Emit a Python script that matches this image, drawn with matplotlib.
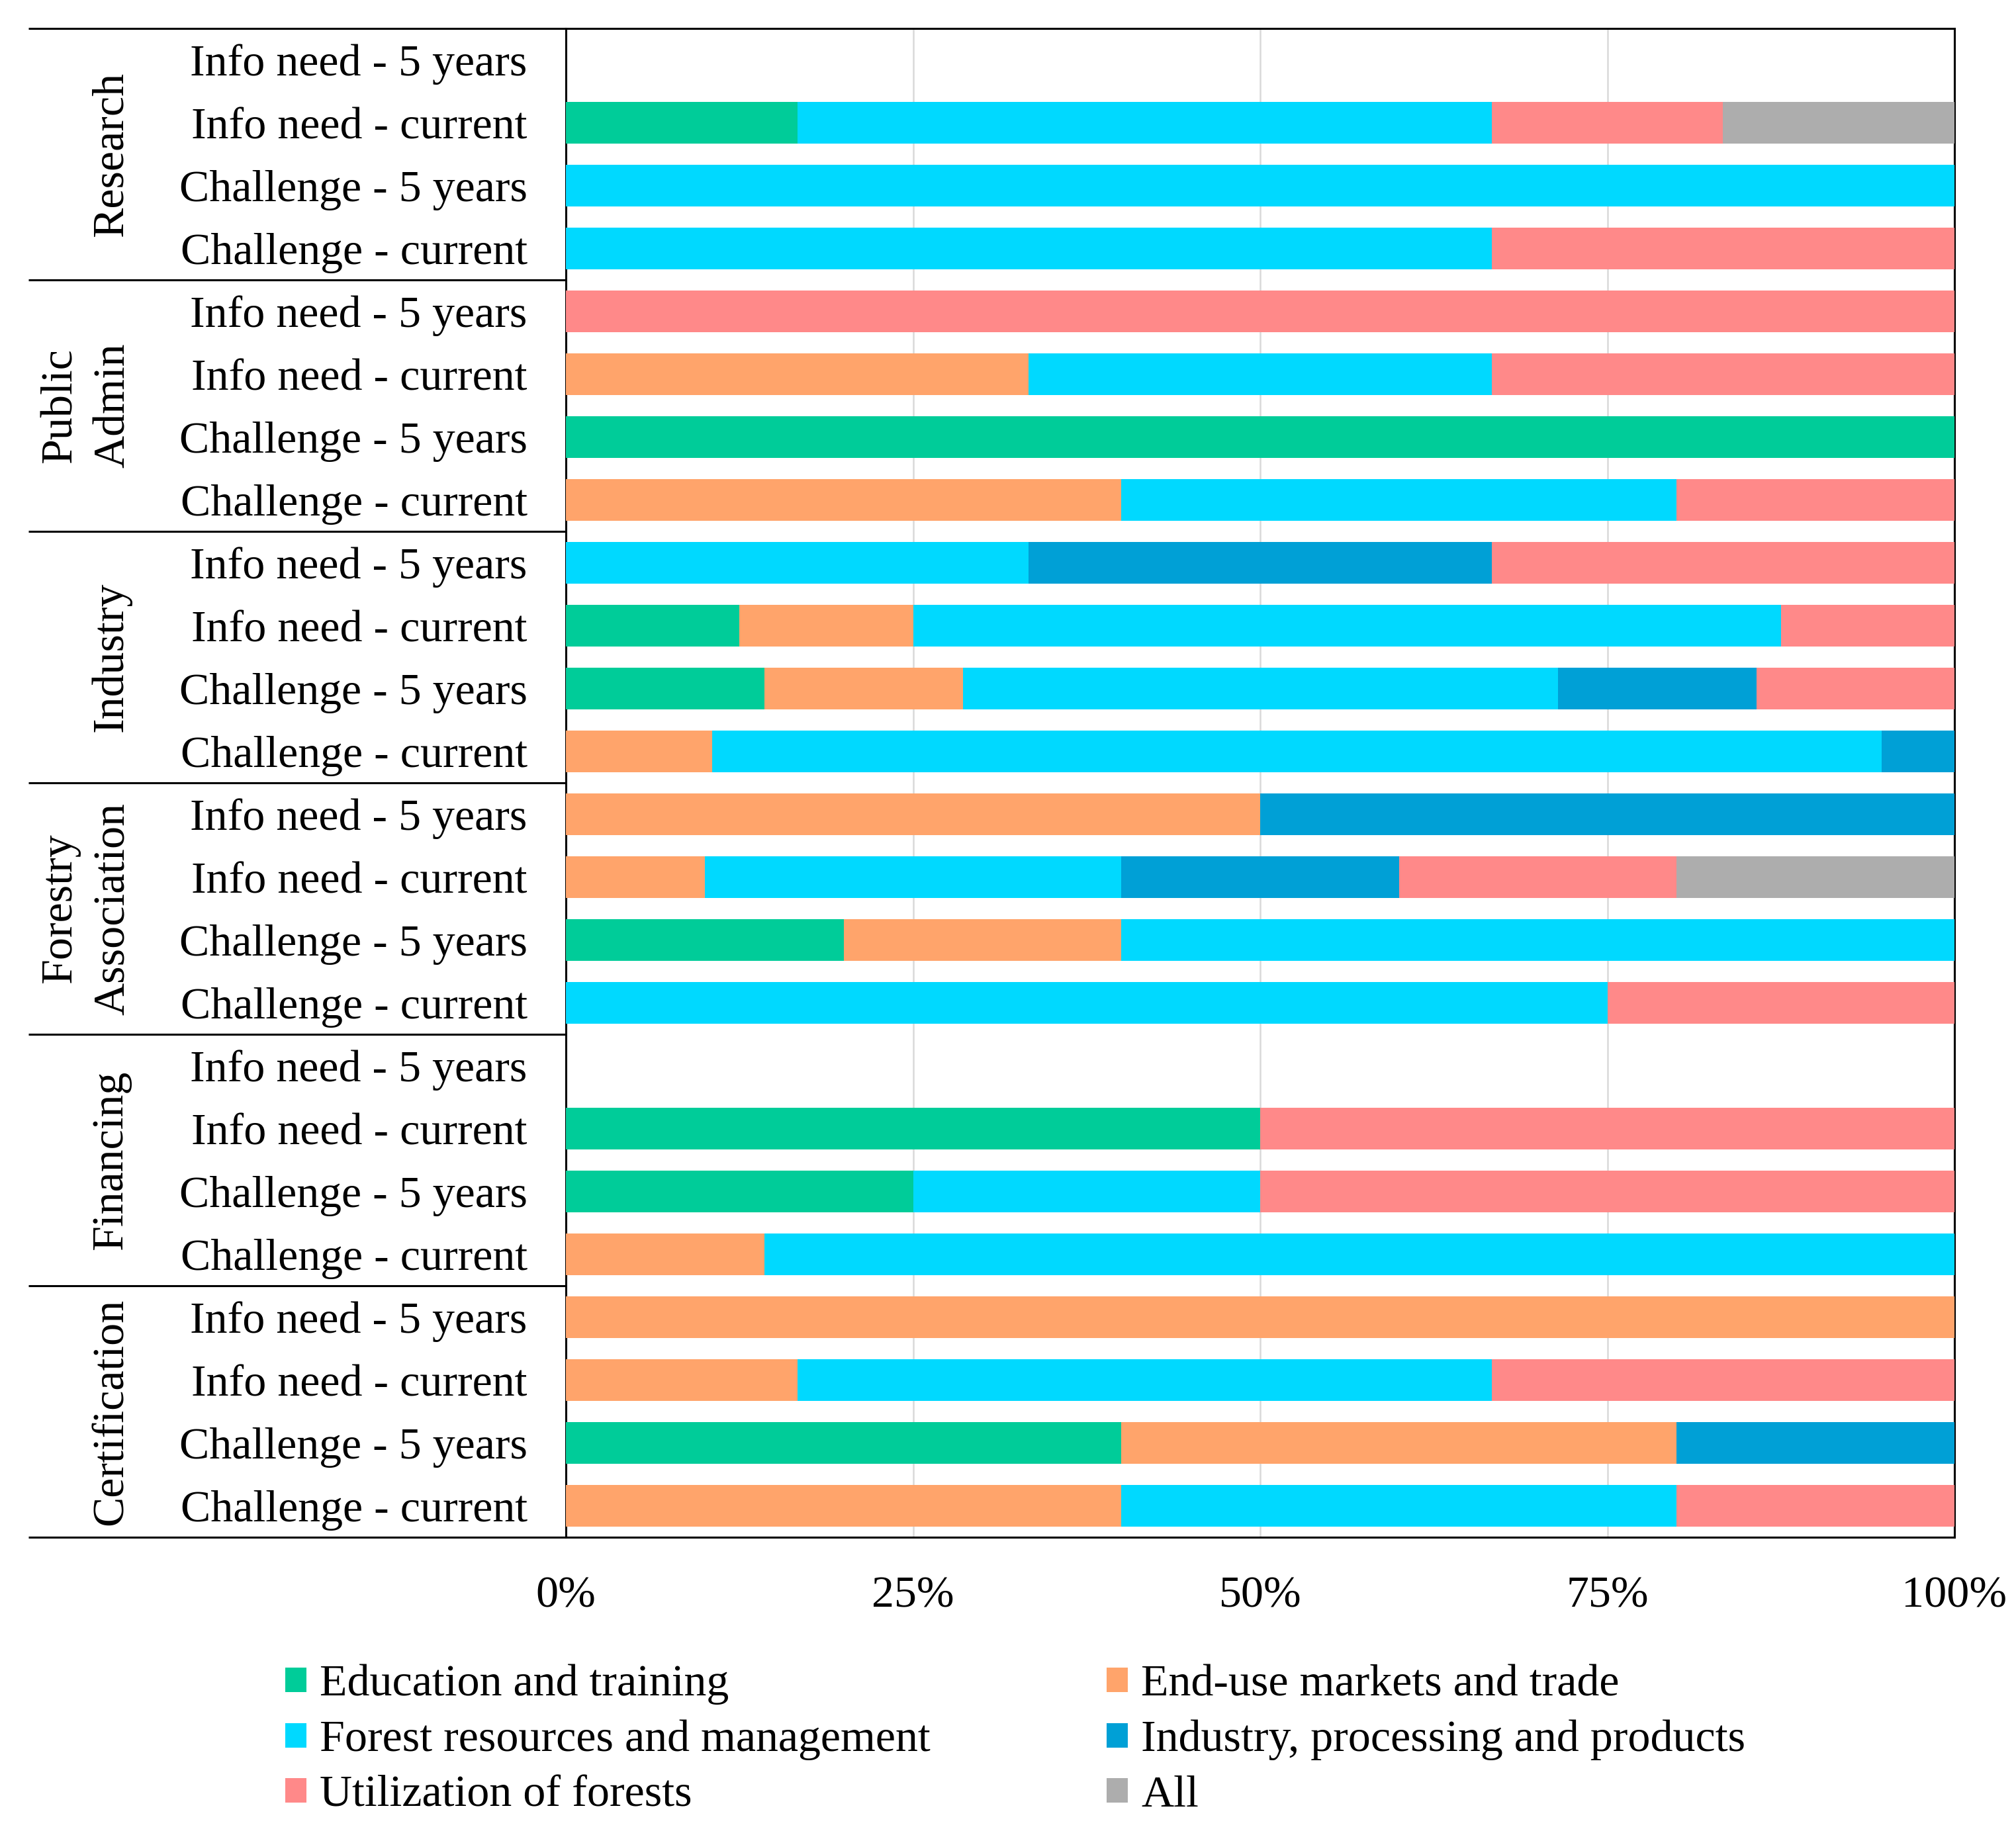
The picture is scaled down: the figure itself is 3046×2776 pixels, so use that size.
import matplotlib
matplotlib.use("Agg")
import matplotlib.pyplot as plt
from matplotlib.patches import Patch
import numpy as np

plt.rcParams['font.family'] = ['Liberation Serif', 'DejaVu Serif']

groups = ["Research", "Public\nAdmin", "Industry", "Forestry\nAssociation", "Financing", "Certification"]
row_types = ["Info need - 5 years", "Info need - current", "Challenge - 5 years", "Challenge - current"]
row_labels = [rt for g in groups for rt in row_types]

series_names = ["Education and training", "End-use markets and trade",
                "Forest resources and management", "Industry, processing and products",
                "Utilization of forests", "All"]
colors = ["#00CC99", "#FFA46B", "#00D9FF", "#00A0D6", "#FF8989", "#ADADAD"]

education = [0, 0.1667, 0, 0,   0, 0, 1.0, 0,   0, 0.125, 0.1429, 0,   0, 0, 0.2, 0,
             0, 0.5, 0.25, 0,   0, 0, 0.4, 0]
end_use = [0, 0, 0, 0,   0, 0.3333, 0, 0.4,   0, 0.125, 0.1429, 0.1053,   0.5, 0.1, 0.2, 0,
           0, 0, 0, 0.1429,   1.0, 0.1667, 0.4, 0.4]
forest = [0, 0.5, 1.0, 0.6667,   0, 0.3333, 0, 0.4,   0.3333, 0.625, 0.4286, 0.8421,
          0, 0.3, 0.6, 0.75,   0, 0, 0.25, 0.8571,   0, 0.5, 0, 0.4]
industry = [0, 0, 0, 0,   0, 0, 0, 0,   0.3333, 0, 0.1429, 0.0526,   0.5, 0.2, 0, 0,
            0, 0, 0, 0,   0, 0, 0.2, 0]
utilization = [0, 0.1667, 0, 0.3333,   1.0, 0.3333, 0, 0.2,   0.3334, 0.125, 0.1427, 0,
               0, 0.2, 0, 0.25,   0, 0.5, 0.5, 0,   0, 0.3333, 0, 0.2]
all_cat = [0, 0.1666, 0, 0,   0, 0, 0, 0,   0, 0, 0, 0,   0, 0.2, 0, 0,
           0, 0, 0, 0,   0, 0, 0, 0]

series = [education, end_use, forest, industry, utilization, all_cat]
xticks = [0, 0.25, 0.5, 0.75, 1.0]
xticklabels = ["0%", "25%", "50%", "75%", "100%"]

W, H, DPI = 3046, 2776, 200
fig = plt.figure(figsize=(W / DPI, H / DPI), dpi=DPI)
ax = fig.add_axes([855 / W, 1 - 2323 / H, (2953 - 855) / W, (2323 - 43) / H])

y = np.arange(len(row_labels))
left = np.zeros(len(row_labels))
handles = []
for vals, name, c in zip(series, series_names, colors):
    v = np.array(vals, dtype=float)
    ax.barh(y, v, left=left, height=0.67, color=c, edgecolor='none', zorder=3)
    left += v
    handles.append(Patch(facecolor=c, edgecolor='none', label=name))

ax.set_ylim(len(row_labels) - 0.5, -0.5)
ax.set_xlim(0, 1)
ax.set_yticks(y)
ax.set_yticklabels(row_labels, fontsize=24.5)
ax.set_xticks(xticks)
ax.set_xticklabels(xticklabels, fontsize=24.5)
ax.tick_params(axis='y', length=0, pad=21)
ax.tick_params(axis='x', length=0, pad=21)
ax.grid(axis='x', color='#D9D9D9', linewidth=0.9, zorder=0)
ax.set_axisbelow(True)
for s in ax.spines.values():
    s.set_linewidth(1.1)
    s.set_color('black')

tr = ax.get_yaxis_transform()
xl = (43 - 855) / (2953 - 855)
for b in [-0.5, 3.5, 7.5, 11.5, 15.5, 19.5, 23.5]:
    ax.plot([xl, 0], [b, b], color='black', lw=1.1, transform=tr, clip_on=False, solid_capstyle='butt')

for i, g in enumerate(groups):
    xc = (168 - 855) / 2098 if "\n" not in g else (131 - 855) / 2098
    ax.text(xc, 4 * i + 1.5, g, rotation=90, ha='center', va='center',
            multialignment='center', fontsize=24.5, transform=tr, linespacing=1.42)

order = [0, 2, 4, 1, 3, 5]
fig.legend([handles[i] for i in order], [series_names[i] for i in order],
           ncol=2, loc='upper left', bbox_to_anchor=(431 / W, 1 - 2515 / H),
           frameon=False, fontsize=24.5, borderpad=0, borderaxespad=0,
           handlelength=0.47, handleheight=0.47, handletextpad=0.3,
           columnspacing=3.9, labelspacing=0.33)

fig.savefig("out.png", dpi=DPI)
